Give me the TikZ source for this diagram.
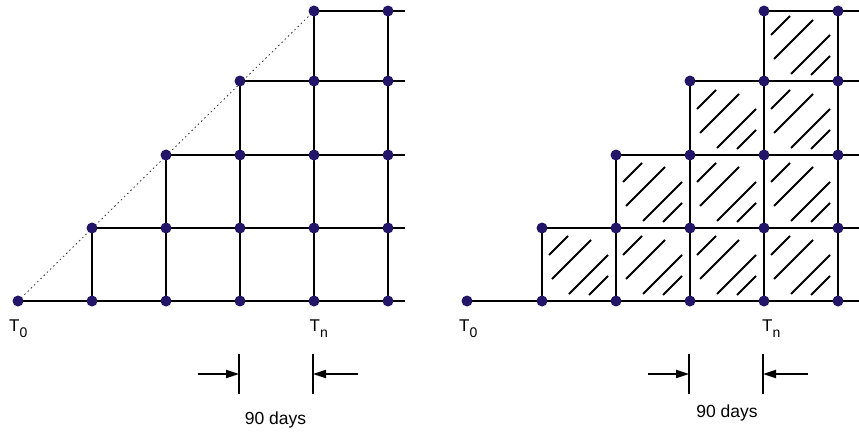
\documentclass[tikz,border=0pt]{standalone}
\usepackage{fontspec}
\setmainfont{Liberation Sans}
\usetikzlibrary{arrows.meta}
\definecolor{dotblue}{RGB}{35,22,105}
\tikzset{
  gridline/.style={line width=2.3pt, black},
  hatchline/.style={line width=2pt, black},
  dotnode/.style={circle, fill=dotblue, inner sep=0pt, minimum size=11pt},
  dimtick/.style={line width=2pt, black},
  dimarrow/.style={line width=1.8pt, black, -{Triangle[length=13pt,width=8pt]}},
  tlabel/.style={inner sep=0pt, anchor=base west, font=\fontsize{17}{20}\selectfont},
  dlabel/.style={inner sep=0pt, anchor=base, font=\fontsize{17.5}{20}\selectfont},
}
\newcommand{\Tsub}[1]{T\raisebox{-6pt}{\fontsize{14}{16}\selectfont #1}}
\begin{document}
\begin{tikzpicture}[x=1pt,y=-1pt]
\useasboundingbox (0,0) rectangle (859,432);
% grid points
\foreach \i/\xl/\xr in {0/18/467,1/92/542,2/166/616,3/240/690,4/314/764,5/388/838}{
  \foreach \j/\y in {0/301,1/228,2/155,3/81,4/11}{
    \ifnum\j>\i\relax\else
      \coordinate (L\i\j) at (\xl,\y);
      \coordinate (R\i\j) at (\xr,\y);
    \fi
  }
}
\foreach \j/\y in {0/301,1/228,2/155,3/81,4/11}{
  \coordinate (LE\j) at (405,\y);
  \coordinate (RE\j) at (860,\y);
}
% hatching (right)
\foreach \j in {0,...,3}{
  \foreach \i in {1,...,4}{
    \ifnum\i>\j\relax
      \begin{scope}[shift={(R\i\j)}]
        \draw[hatchline] (7,-46) -- (26,-65);
        \draw[hatchline] (10,-22) -- (49,-61);
        \draw[hatchline] (27,-7) -- (66,-46);
        \draw[hatchline] (47,-6) -- (66,-25);
      \end{scope}
    \fi
  }
}
% dotted diagonal
\draw[line width=0.8pt, dash pattern=on 1.5pt off 3pt, black!80] (L00) -- (L44);
% horizontal lines
\foreach \j in {0,...,4}{
  \draw[gridline] (L\j\j) -- (LE\j);
  \draw[gridline] (R\j\j) -- (RE\j);
}
% vertical lines
\foreach \i/\t in {1/1,2/2,3/3,4/4,5/4}{
  \draw[gridline] (L\i0) -- (L\i\t);
  \draw[gridline] (R\i0) -- (R\i\t);
}
% dots
\foreach \i in {0,...,5}{
  \foreach \j in {0,...,4}{
    \ifnum\j>\i\relax\else
      \node[dotnode] (dL\i\j) at (L\i\j) {};
      \node[dotnode] (dR\i\j) at (R\i\j) {};
    \fi
  }
}
% labels
\node[tlabel] (T0L) at (9,331) {\Tsub{0}};
\node[tlabel] (TnL) at (309.5,331) {\Tsub{n}};
\node[tlabel] (T0R) at (459,331) {\Tsub{0}};
\node[tlabel] (TnR) at (762,331) {\Tsub{n}};
% dimension marks left
\coordinate (lt1a) at (239,354); \coordinate (lt1b) at (239,394);
\coordinate (lt2a) at (313,354); \coordinate (lt2b) at (313,394);
\coordinate (la1) at (198,374); \coordinate (la1e) at (239,374);
\coordinate (la2) at (358,374); \coordinate (la2e) at (313,374);
\draw[dimtick] (lt1a) -- (lt1b);
\draw[dimtick] (lt2a) -- (lt2b);
\draw[dimarrow] (la1) -- (la1e);
\draw[dimarrow] (la2) -- (la2e);
\node[dlabel] (dL) at (275.5,424) {90 days};
% dimension marks right
\coordinate (rt1a) at (689,354); \coordinate (rt1b) at (689,394);
\coordinate (rt2a) at (763,354); \coordinate (rt2b) at (763,394);
\coordinate (ra1) at (648,374); \coordinate (ra1e) at (689,374);
\coordinate (ra2) at (808,374); \coordinate (ra2e) at (763,374);
\draw[dimtick] (rt1a) -- (rt1b);
\draw[dimtick] (rt2a) -- (rt2b);
\draw[dimarrow] (ra1) -- (ra1e);
\draw[dimarrow] (ra2) -- (ra2e);
\node[dlabel] (dR) at (727,417) {90 days};
\end{tikzpicture}
\end{document}
